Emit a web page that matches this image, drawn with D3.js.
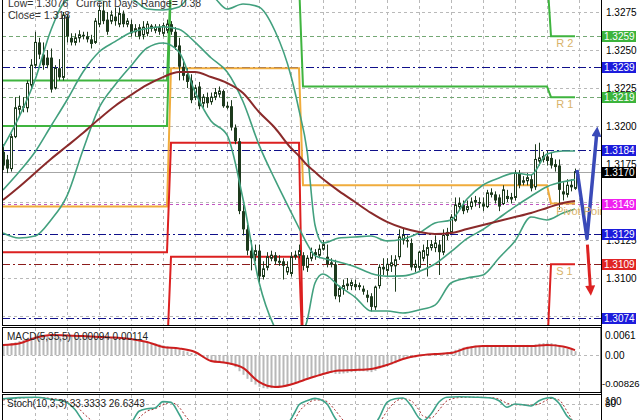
<!DOCTYPE html>
<html>
<head>
<meta charset="utf-8">
<script src="https://cdn.jsdelivr.net/npm/d3@7/dist/d3.min.js"></script>
<style>
html,body{margin:0;padding:0;background:#fff;overflow:hidden;}
svg{display:block;}
text{font-family:"Liberation Sans",Arial,sans-serif;}
</style>
</head>
<body>
<svg id="chart" width="640" height="420"></svg>
<script>
// ---------------- data ----------------
const opens = [
1.3183,1.3178,1.3172,1.3193,1.3211,1.3213,1.3212,1.3227,1.3240,1.3255,
1.3247,1.3245,1.3245,1.3225,1.3238,1.3232,1.3272,1.3258,1.3255,1.3258,
1.3260,1.3259,1.3257,1.3255,1.3267,1.3276,1.3270,1.3269,1.3272,1.3267,
1.3274,1.3267,1.3267,1.3262,1.3265,1.3260,1.3261,1.3266,1.3263,1.3265,
1.3261,1.3263,1.3267,1.3262,1.3253,1.3239,1.3234,1.3230,1.3219,1.3226,
1.3215,1.3219,1.3216,1.3219,1.3221,1.3223,1.3213,1.3213,1.3199,1.3190,
1.3144,1.3132,1.3118,1.3115,1.3118,1.3101,1.3107,1.3113,1.3115,1.3111,
1.3111,1.3104,1.3103,1.3114,1.3115,1.3115,1.3107,1.3113,1.3117,1.3115,
1.3119,1.3114,1.3109,1.3109,1.3088,1.3093,1.3095,1.3095,1.3096,1.3095,
1.3093,1.3089,1.3088,1.3081,1.3095,1.3106,1.3105,1.3108,1.3108,1.3114,
1.3125,1.3125,1.3123,1.3107,1.3107,1.3113,1.3115,1.3120,1.3120,1.3122,
1.3117,1.3128,1.3130,1.3138,1.3147,1.3148,1.3145,1.3147,1.3150,1.3150,
1.3149,1.3147,1.3155,1.3155,1.3153,1.3149,1.3154,1.3152,1.3153,1.3169,
1.3163,1.3164,1.3165,1.3160,1.3177,1.3178,1.3180,1.3179,1.3175,1.3174,
1.3157,1.3155,1.3160,1.3159];
const highs = [
1.3188,1.3181,1.3195,1.3219,1.3220,1.3219,1.3230,1.3244,1.3262,1.3258,
1.3255,1.3250,1.3251,1.3240,1.3244,1.3275,1.3273,1.3261,1.3261,1.3263,
1.3262,1.3262,1.3260,1.3271,1.3280,1.3282,1.3275,1.3276,1.3278,1.3278,
1.3276,1.3271,1.3270,1.3267,1.3267,1.3269,1.3269,1.3267,1.3267,1.3267,
1.3268,1.3270,1.3269,1.3265,1.3258,1.3244,1.3238,1.3234,1.3227,1.3229,
1.3221,1.3222,1.3222,1.3225,1.3226,1.3224,1.3216,1.3217,1.3201,1.3192,
1.3148,1.3135,1.3125,1.3122,1.3122,1.3111,1.3117,1.3118,1.3117,1.3115,
1.3113,1.3111,1.3117,1.3118,1.3122,1.3117,1.3115,1.3120,1.3119,1.3122,
1.3125,1.3122,1.3113,1.3112,1.3095,1.3099,1.3100,1.3099,1.3099,1.3097,
1.3095,1.3092,1.3090,1.3095,1.3109,1.3113,1.3113,1.3115,1.3115,1.3132,
1.3133,1.3128,1.3126,1.3112,1.3118,1.3122,1.3125,1.3125,1.3128,1.3125,
1.3132,1.3133,1.3142,1.3153,1.3153,1.3151,1.3151,1.3153,1.3154,1.3153,
1.3153,1.3158,1.3159,1.3157,1.3155,1.3161,1.3158,1.3156,1.3171,1.3171,
1.3167,1.3169,1.3168,1.3188,1.3189,1.3183,1.3184,1.3183,1.3178,1.3178,
1.3163,1.3165,1.3165,1.3172];
const lows = [
1.3171,1.3169,1.3170,1.3192,1.3206,1.3209,1.3209,1.3224,1.3238,1.3244,
1.3237,1.3238,1.3222,1.3224,1.3230,1.3230,1.3255,1.3253,1.3253,1.3255,
1.3257,1.3255,1.3251,1.3254,1.3265,1.3267,1.3260,1.3267,1.3266,1.3265,
1.3265,1.3265,1.3259,1.3259,1.3257,1.3257,1.3259,1.3262,1.3261,1.3260,
1.3259,1.3261,1.3260,1.3250,1.3230,1.3230,1.3225,1.3215,1.3217,1.3211,
1.3212,1.3212,1.3214,1.3217,1.3219,1.3212,1.3211,1.3197,1.3188,1.3142,
1.3128,1.3115,1.3105,1.3111,1.3097,1.3099,1.3105,1.3111,1.3109,1.3108,
1.3099,1.3102,1.3101,1.3112,1.3113,1.3105,1.3104,1.3111,1.3112,1.3113,
1.3118,1.3107,1.3107,1.3086,1.3084,1.3089,1.3092,1.3092,1.3092,1.3092,
1.3089,1.3084,1.3078,1.3079,1.3093,1.3102,1.3101,1.3104,1.3091,1.3112,
1.3122,1.3120,1.3105,1.3104,1.3105,1.3111,1.3101,1.3118,1.3117,1.3102,
1.3115,1.3125,1.3129,1.3137,1.3145,1.3142,1.3143,1.3145,1.3147,1.3146,
1.3144,1.3146,1.3153,1.3149,1.3144,1.3148,1.3150,1.3149,1.3151,1.3159,
1.3161,1.3161,1.3157,1.3158,1.3174,1.3176,1.3174,1.3172,1.3170,1.3145,
1.3151,1.3153,1.3157,1.3158];
const closes = [
1.3174,1.3172,1.3193,1.3212,1.3213,1.3212,1.3228,1.3240,1.3255,1.3247,
1.3240,1.3240,1.3224,1.3238,1.3232,1.3273,1.3259,1.3255,1.3258,1.3260,
1.3259,1.3257,1.3254,1.3269,1.3276,1.3269,1.3262,1.3273,1.3269,1.3274,
1.3267,1.3269,1.3261,1.3264,1.3259,1.3265,1.3267,1.3264,1.3265,1.3262,
1.3266,1.3267,1.3262,1.3252,1.3239,1.3233,1.3229,1.3217,1.3225,1.3213,
1.3219,1.3215,1.3219,1.3222,1.3223,1.3213,1.3213,1.3199,1.3190,1.3144,
1.3132,1.3118,1.3113,1.3118,1.3101,1.3106,1.3114,1.3115,1.3111,1.3111,
1.3108,1.3107,1.3114,1.3115,1.3118,1.3108,1.3113,1.3117,1.3115,1.3119,
1.3122,1.3109,1.3110,1.3088,1.3093,1.3095,1.3096,1.3097,1.3094,1.3095,
1.3091,1.3087,1.3081,1.3094,1.3107,1.3107,1.3109,1.3110,1.3112,1.3127,
1.3128,1.3124,1.3107,1.3109,1.3117,1.3118,1.3120,1.3122,1.3123,1.3117,
1.3128,1.3130,1.3140,1.3148,1.3149,1.3144,1.3147,1.3150,1.3151,1.3149,
1.3147,1.3156,1.3156,1.3151,1.3147,1.3158,1.3152,1.3153,1.3169,1.3161,
1.3164,1.3166,1.3159,1.3178,1.3179,1.3180,1.3177,1.3174,1.3173,1.3158,
1.3155,1.3161,1.3161,1.3170];

// indicator readings (bar index of each reading)
const bandIdx = [0,4,8,12,16,20,24,28,32,36,40,44,48,52,56,60,64,68,72,74,76,78,80,84,88,92,96,100,104,108,112,116,120,124,128,132,136,140,143];
const bbUpper = [1.31862,1.32059,1.32303,1.32632,1.32829,1.32849,1.32829,1.32842,1.32836,1.32770,1.32763,1.32783,1.32882,1.32862,1.32770,1.32803,1.32783,1.32625,1.32329,1.32105,1.31842,1.31349,1.31230,1.31263,1.31270,1.31276,1.31244,1.31257,1.31296,1.31362,1.31382,1.31520,1.31612,1.31658,1.31691,1.31678,1.31816,1.31836,1.31836];
const bbMiddle = [1.31579,1.31697,1.31829,1.32000,1.32171,1.32355,1.32487,1.32555,1.32615,1.32642,1.32653,1.32636,1.32552,1.32449,1.32357,1.32161,1.31876,1.31647,1.31434,1.31329,1.31226,1.31147,1.31130,1.31105,1.31074,1.31030,1.31012,1.31014,1.31042,1.31092,1.31173,1.31259,1.31319,1.31395,1.31470,1.31538,1.31601,1.31633,1.31647];
const bbLower = [1.31296,1.31263,1.31276,1.31382,1.31540,1.31842,1.32119,1.32270,1.32395,1.32513,1.32546,1.32487,1.32224,1.32033,1.31941,1.31520,1.30974,1.30671,1.30540,1.30592,1.30717,1.30967,1.31026,1.30947,1.30875,1.30783,1.30783,1.30770,1.30790,1.30822,1.30967,1.31000,1.31020,1.31132,1.31244,1.31401,1.31382,1.31428,1.31454];
const maSlow = [1.31513,1.31599,1.31691,1.31783,1.31868,1.31954,1.32046,1.32132,1.32204,1.32270,1.32322,1.32355,1.32355,1.32322,1.32283,1.32217,1.32092,1.31987,1.31855,1.31803,1.31743,1.31697,1.31651,1.31572,1.31500,1.31428,1.31369,1.31329,1.31303,1.31290,1.31296,1.31322,1.31349,1.31375,1.31401,1.31428,1.31461,1.31494,1.31507];
const macdSignal = [0.00229,0.00263,0.00386,0.00453,0.00442,0.00431,0.00408,0.00397,0.00363,0.00296,0.00184,0.00150,0.00072,-0.00130,-0.00175,-0.00287,-0.00601,-0.00714,-0.00657,-0.00600,-0.00534,-0.00478,-0.00422,-0.00343,-0.00332,-0.00310,-0.00220,-0.00085,-0.00007,0.00027,0.00049,0.00162,0.00206,0.00206,0.00206,0.00206,0.00229,0.00195,0.00114];
const macdMain = [
0.0024,0.0025,0.0027,0.0029,0.0032,0.0034,0.0037,0.0040,0.0044,0.0046,
0.0046,0.0045,0.0043,0.0042,0.0041,0.0045,0.0046,0.0045,0.0044,0.0043,
0.0042,0.0041,0.0040,0.0041,0.0043,0.0042,0.0041,0.0040,0.0039,0.0039,
0.0038,0.0037,0.0036,0.0035,0.0033,0.0032,0.0030,0.0028,0.0026,0.0024,
0.0022,0.0020,0.0018,0.0015,0.0012,0.0010,0.0008,0.0005,0.0003,0.0001,
-0.0005,-0.0008,-0.0012,-0.0014,-0.0015,-0.0016,-0.0018,-0.0022,-0.0027,-0.0036,
-0.0044,-0.0053,-0.0060,-0.0066,-0.0071,-0.0074,-0.0075,-0.0074,-0.0073,-0.0072,
-0.0070,-0.0068,-0.0066,-0.0063,-0.0060,-0.0057,-0.0054,-0.0051,-0.0048,-0.0046,
-0.0043,-0.0042,-0.0040,-0.0042,-0.0042,-0.0041,-0.0040,-0.0038,-0.0037,-0.0036,
-0.0036,-0.0037,-0.0038,-0.0035,-0.0030,-0.0027,-0.0024,-0.0021,-0.0018,-0.0013,
-0.0009,-0.0006,-0.0006,-0.0005,-0.0002,0.0000,0.0001,0.0002,0.0003,0.0004,
0.0005,0.0007,0.0009,0.0012,0.0015,0.0017,0.0019,0.0020,0.0021,0.0021,
0.0022,0.0023,0.0022,0.0021,0.0021,0.0022,0.0021,0.0021,0.0023,0.0023,
0.0023,0.0023,0.0022,0.0024,0.0026,0.0027,0.0028,0.0027,0.0025,0.0021,
0.0017,0.0014,0.0012,0.0009];
const stochIdx = [0,4,8,12,16,18,20,22,26,30,32,34,36,38,40,42,44,46,50,56,60,66,70,72,73,74,76,78,80,81,83,85,89,92,93,94,96,98,100,102,104,105,107,109,111,114,118,122,124,126,128,130,132,134,136,137,139,141,143];
const stochMain = [93,96,97,92,84,66,38,22,18,20,32,62,68,70,86,84,55,22,10,12,5,10,25,42,60,78,88,94,88,80,45,22,15,20,30,45,84,93,95,76,45,38,55,85,97,98,97,95,88,72,80,78,75,88,95,96,82,50,33.3333];
const stochSignal = [90,95,96,94,86,78,58,40,22,19,25,45,62,68,78,84,72,45,15,12,8,8,18,30,42,60,80,90,90,86,65,40,18,18,22,32,62,85,93,88,65,50,45,65,88,96,97,96,92,82,78,78,77,80,90,94,90,62,26.6343];

// daily pivot levels (segments of bars)
const pivotStart = [0, 42, 75, 137];
const pivotEnd   = [41, 74, 136, 143];
const pivotR2 = [1.3230, 1.3300, 1.3300, 1.3259];
const pivotR1 = [1.3200, 1.3295, 1.3226, 1.3219];
const pivotP  = [1.3147, 1.3238, 1.3161, 1.3149];
const pivotS1 = [1.3117, 1.3189, 1.3050, 1.3109];
const pivotS2 = [1.3050, 1.3114, 1.3045, 1.3045];

// horizontal levels shown on the price axis
const levelPrices = [1.3259, 1.3239, 1.3219, 1.3184, 1.3170, 1.3149, 1.3129, 1.3109, 1.3074];
const levelKinds  = ['res','line','res','line','bid','pivot','line','sup','line'];
const priceGrid = [1.3075,1.3100,1.3125,1.3150,1.3175,1.3200,1.3225,1.3250,1.3275];
const priceTickLabels = [1.3100,1.3125,1.3175,1.3200,1.3225,1.3250,1.3275];
const macdTicks = [0.0061, 0, -0.00826];
const macdTickLabels = ['0.0061','0.00','-0.00826'];
const stochTicks = [100, 80];

// forecast arrows (bar, price)
const forecastUp = [[143.5,1.3171],[146,1.3126],[148.5,1.3197]];
const forecastDown = [[146.1,1.3122],[146.9,1.3091]];

// ---------------- drawing ----------------
const svg = d3.select('#chart');
const xS = d3.scaleLinear().domain([0,143]).range([3,575]);
const yP = d3.scaleLinear().domain([1.30704,1.32829]).range([323,0]);
const yM = d3.scaleLinear().domain([-0.00826,0.0061]).range([392,328]);
const yS = d3.scaleLinear().domain([0,100]).range([436,396]);

const defs = svg.append('defs');
defs.append('clipPath').attr('id','cpMain').append('rect').attr('x',2).attr('y',0).attr('width',599).attr('height',325);
defs.append('clipPath').attr('id','cpMacd').append('rect').attr('x',2).attr('y',328).attr('width',599).attr('height',64);
defs.append('clipPath').attr('id','cpStoch').append('rect').attr('x',2).attr('y',395).attr('width',599).attr('height',41);
function marker(id,color,w,h){
  defs.append('marker').attr('id',id).attr('viewBox','0 0 10 10').attr('refX',6).attr('refY',5)
    .attr('markerUnits','userSpaceOnUse').attr('markerWidth',w).attr('markerHeight',h).attr('orient','auto')
    .append('path').attr('d','M0,0 L10,5 L0,10 z').attr('fill',color);
}
marker('arBlue','#3a4ab8',16,10);
marker('arRed','#dd2222',16,10);

const gridColor = '#b9b9b9';
const vgrid = d3.range(8,145,8);
const panels = [[0,325],[328,392],[395,420]];
panels.forEach(([a,b])=>{
  svg.append('g').selectAll('line').data(vgrid).join('line')
    .attr('x1',d=>xS(d)+0.5).attr('x2',d=>xS(d)+0.5).attr('y1',a).attr('y2',b)
    .attr('stroke',gridColor).attr('stroke-dasharray','3,3');
});
svg.append('g').selectAll('line').data(priceGrid).join('line')
  .attr('x1',2).attr('x2',601).attr('y1',d=>Math.round(yP(d))+0.5).attr('y2',d=>Math.round(yP(d))+0.5)
  .attr('stroke',gridColor).attr('stroke-dasharray','3,3');

const gMain = svg.append('g').attr('clip-path','url(#cpMain)');

// level lines
const levelStyle = {
  res:{stroke:'#74a874',dash:'4,3',box:'#3cb43c'},
  line:{stroke:'#10108a',dash:'8,3,2,3',box:'#1c1cdc'},
  bid:{stroke:'#a6a6a6',dash:null,box:'#000000'},
  pivot:{stroke:'#c256c2',dash:'3,3',box:'#f020f0'},
  sup:{stroke:'#8c1c1c',dash:'8,3,2,3',box:'#e02424'}
};
const levels = levelPrices.map((p,k)=>({p,kind:levelKinds[k]}));
gMain.selectAll('line.lvl').data(levels).join('line').attr('class','lvl')
  .attr('x1',2).attr('x2',601)
  .attr('y1',d=>Math.round(yP(d.p))+0.5).attr('y2',d=>Math.round(yP(d.p))+0.5)
  .attr('stroke',d=>levelStyle[d.kind].stroke)
  .attr('stroke-dasharray',d=>levelStyle[d.kind].dash);

// pivot step lines
function stepPts(arr){
  const pts=[];
  arr.forEach((v,k)=>{pts.push([pivotStart[k],v]);pts.push([pivotEnd[k],v]);});
  return pts;
}
const pline = d3.line().x(d=>xS(d[0])).y(d=>yP(d[1]));
[[pivotR2,'#3fb43f'],[pivotR1,'#3fb43f'],[pivotP,'#f0ac3c'],[pivotS1,'#dc2020'],[pivotS2,'#dc2020']]
  .forEach(([arr,col])=>{
    gMain.append('path').attr('d',pline(stepPts(arr))).attr('fill','none')
      .attr('stroke',col).attr('stroke-width',2);
  });

// candles
const candles = closes.map((c,i)=>({i,o:opens[i],h:highs[i],l:lows[i],c}));
const cc = '#1d3a1d';
gMain.append('g').selectAll('line').data(candles).join('line')
  .attr('x1',d=>Math.round(xS(d.i))+0.5).attr('x2',d=>Math.round(xS(d.i))+0.5)
  .attr('y1',d=>yP(d.h)).attr('y2',d=>yP(d.l)).attr('stroke',cc).attr('stroke-width',1);
gMain.append('g').selectAll('rect').data(candles).join('rect')
  .attr('x',d=>d.c>=d.o?Math.round(xS(d.i))-0.5:Math.round(xS(d.i))-1)
  .attr('width',d=>d.c>=d.o?2:3)
  .attr('y',d=>yP(Math.max(d.o,d.c)))
  .attr('height',d=>Math.max(1,Math.abs(yP(d.o)-yP(d.c))))
  .attr('fill',d=>d.c>=d.o?'#ffffff':cc)
  .attr('stroke',d=>d.c>=d.o?cc:'none').attr('stroke-width',1);

// bands & MA
const bline = d3.line().x((d,k)=>xS(bandIdx[k])).y(d=>yP(d)).curve(d3.curveMonotoneX);
[bbUpper,bbMiddle,bbLower].forEach(arr=>{
  gMain.append('path').attr('d',bline(arr)).attr('fill','none').attr('stroke','#42a07e').attr('stroke-width',1.6);
});
gMain.append('path').attr('d',bline(maSlow)).attr('fill','none').attr('stroke','#8a2a2a').attr('stroke-width',2);

// forecast arrows
const aline = d3.line().x(d=>xS(d[0])).y(d=>yP(d[1]));
gMain.append('path').attr('d',aline(forecastUp)).attr('fill','none').attr('stroke','#3a4ab8')
  .attr('stroke-width',3.5).attr('stroke-linejoin','round').attr('marker-end','url(#arBlue)');
gMain.append('path').attr('d',aline(forecastDown)).attr('fill','none').attr('stroke','#dd2222')
  .attr('stroke-width',3).attr('marker-end','url(#arRed)');

// pivot labels
const pivLabels = [['R 2',pivotR2[3]],['R 1',pivotR1[3]],['Pivot Point',pivotP[3]],['S 1',pivotS1[3]]];
gMain.append('g').selectAll('text').data(pivLabels).join('text')
  .attr('x',xS(138.3)).attr('y',d=>yP(d[1])+11).text(d=>d[0])
  .attr('font-size',11).attr('fill','#d9b36a');

// top-left info
svg.append('text').attr('x',8).attr('y',7).text('Low= 1.3076').attr('font-size',10.5).attr('fill','#333');
svg.append('text').attr('x',76).attr('y',7).text('Current Days Range= 0.38').attr('font-size',10.5).attr('fill','#333');
svg.append('text').attr('x',8).attr('y',19).text('Close= 1.318').attr('font-size',10.5).attr('fill','#333');

// ---- MACD panel ----
const gMacd = svg.append('g').attr('clip-path','url(#cpMacd)');
gMacd.append('line').attr('x1',2).attr('x2',601).attr('y1',Math.round(yM(0))+0.5).attr('y2',Math.round(yM(0))+0.5)
  .attr('stroke',gridColor).attr('stroke-dasharray','3,3');
gMacd.append('g').selectAll('rect').data(macdMain).join('rect')
  .attr('x',(d,i)=>Math.round(xS(i))-0.5).attr('width',2)
  .attr('y',d=>Math.min(yM(0),yM(d))).attr('height',d=>Math.abs(yM(d)-yM(0)))
  .attr('fill','#b8b8b8');
const mline = d3.line().x((d,k)=>xS(bandIdx[k])).y(d=>yM(d)).curve(d3.curveMonotoneX);
gMacd.append('path').attr('d',mline(macdSignal)).attr('fill','none').attr('stroke','#cc1e1e').attr('stroke-width',2);
svg.append('text').attr('x',7).attr('y',340).text('MACD(5,35,5) 0.00094 0.00114').attr('font-size',10).attr('fill','#222');

// ---- Stochastic panel ----
const gSt = svg.append('g').attr('clip-path','url(#cpStoch)');
gSt.append('line').attr('x1',2).attr('x2',601).attr('y1',Math.round(yS(80))+0.5).attr('y2',Math.round(yS(80))+0.5)
  .attr('stroke',gridColor).attr('stroke-dasharray','3,3');
const sline = d3.line().x((d,k)=>xS(stochIdx[k])).y(d=>yS(d)).curve(d3.curveMonotoneX);
gSt.append('path').attr('d',sline(stochSignal)).attr('fill','none').attr('stroke','#a83232').attr('stroke-width',1).attr('stroke-dasharray','2,2');
gSt.append('path').attr('d',sline(stochMain)).attr('fill','none').attr('stroke','#3ea38a').attr('stroke-width',1.6);
svg.append('text').attr('x',7).attr('y',407).text('Stoch(10,3,3) 33.3333 26.6343').attr('font-size',10).attr('fill','#222');

// ---- borders ----
const bc='#000';
svg.append('line').attr('x1',2.5).attr('x2',2.5).attr('y1',0).attr('y2',325.5).attr('stroke',bc);
svg.append('line').attr('x1',2).attr('x2',601).attr('y1',325.5).attr('y2',325.5).attr('stroke',bc);
svg.append('rect').attr('x',2.5).attr('y',327.5).attr('width',598.5).attr('height',65).attr('fill','none').attr('stroke',bc);
svg.append('line').attr('x1',2).attr('x2',601).attr('y1',394.5).attr('y2',394.5).attr('stroke',bc);
svg.append('line').attr('x1',2.5).attr('x2',2.5).attr('y1',394.5).attr('y2',420).attr('stroke',bc);
svg.append('line').attr('x1',601.5).attr('x2',601.5).attr('y1',0).attr('y2',420).attr('stroke',bc);

// ---- price axis ----
const gAxis = svg.append('g').attr('transform','translate(601,0)')
  .call(d3.axisRight(yP).tickValues(priceTickLabels).tickFormat(d3.format('.4f')).tickSize(0).tickPadding(5));
gAxis.select('.domain').remove();
gAxis.selectAll('text').attr('font-size',10).attr('font-family','"Liberation Sans",Arial,sans-serif').attr('fill','#000');

// level boxes
const gBox = svg.append('g');
gBox.selectAll('rect').data(levels).join('rect')
  .attr('x',602).attr('width',34).attr('y',d=>Math.round(yP(d.p))-5).attr('height',11)
  .attr('fill',d=>levelStyle[d.kind].box);
gBox.selectAll('text').data(levels).join('text')
  .attr('x',604).attr('y',d=>Math.round(yP(d.p))+4).text(d=>d3.format('.4f')(d.p))
  .attr('font-size',10).attr('fill','#fff');

// MACD axis labels
svg.append('g').selectAll('text').data(macdTicks).join('text')
  .attr('x',(d,k)=>k===2?602:605)
  .attr('y',(d,k)=>yM(d)+(k===0?11:(k===2?-5:4)))
  .text((d,k)=>macdTickLabels[k]).attr('font-size',(d,k)=>k===2?9.5:10).attr('fill','#000');
// Stoch axis labels (overlapping, as in the original)
svg.append('g').selectAll('text').data(stochTicks).join('text')
  .attr('x',605).attr('y',d=>d===100?yS(d)+9:yS(d)+3)
  .text(d=>d).attr('font-size',10).attr('fill','#000');
</script>
</body>
</html>
